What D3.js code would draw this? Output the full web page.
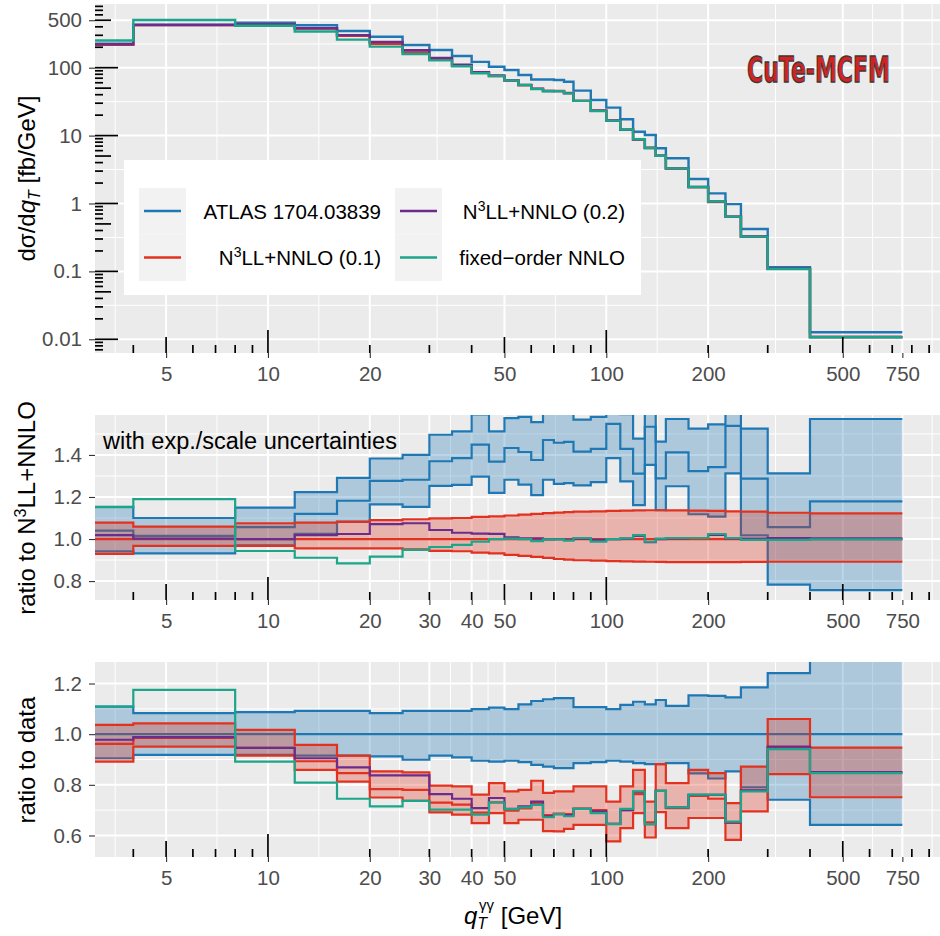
<!DOCTYPE html>
<html>
<head>
<meta charset="utf-8">
<script src="https://cdn.jsdelivr.net/npm/d3@7"></script>
<style>
body { margin: 0; background: #fff; }
svg { display: block; font-family: "Liberation Sans", Arial, Helvetica, sans-serif; }
</style>
</head>
<body>
<div id="chart"></div>
<script>

// bin edges in GeV
var edges = [0,4,8,12,16,20,25,30,35,40,45,50,55,60,65,70,75,80,90,100,110,120,130,140,150,175,200,225,250,300,400,750];

// top panel: dsigma/dqT [fb/GeV]
var atlas   = [226,430,460,421,347,286,216,182,149,122,103,92.5,78,67,67,66,62,46,33.4,25.8,17.4,11.4,10.2,6.5,4.63,2.30,1.41,0.98,0.42,0.115,0.0127];
var n3ll01  = [217,424,435,376,294,224,168,133,108,84,75,64.6,55.1,48.7,45.6,45.3,42.4,32.5,23.4,16.7,12.2,8.70,6.65,5.04,3.28,1.74,1.05,0.64,0.326,0.109,0.0108];
var n3ll02  = [221,425,435,381,302,239,181,139,111,86,77,65.2,55.8,49.2,45.3,45.1,42.2,32.4,23.2,16.7,12.2,8.80,6.58,5.04,3.29,1.75,1.07,0.64,0.327,0.109,0.0108];
var fixedNNLO = [251,505,415,341,259,204,159,128,105,83,75,65,55.5,48.3,45.0,45.1,41.9,32.4,23.0,16.6,12.3,8.82,6.58,5.04,3.29,1.75,1.07,0.64,0.325,0.108,0.0107];

// middle panel: ratio to N3LL+NNLO (0.1)
var r2AtlasC  = [1.040,1.015,1.057,1.120,1.182,1.277,1.282,1.370,1.385,1.449,1.368,1.433,1.414,1.376,1.471,1.458,1.462,1.416,1.429,1.548,1.429,1.311,1.534,1.289,1.412,1.323,1.342,1.538,1.287,1.057,1.179];
var r2AtlasUp = [1.153,1.100,1.149,1.223,1.291,1.383,1.400,1.496,1.512,1.593,1.512,1.575,1.581,1.556,1.674,1.665,1.670,1.568,1.581,1.701,1.594,1.478,1.715,1.463,1.571,1.525,1.545,1.762,1.525,1.312,1.571];
var r2AtlasDn = [0.941,0.932,0.970,1.025,1.082,1.165,1.153,1.253,1.258,1.297,1.220,1.282,1.259,1.209,1.282,1.262,1.266,1.255,1.271,1.385,1.274,1.161,1.353,1.137,1.251,1.118,1.107,1.312,1.017,0.783,0.757];
var r2ResC  = [1,1,1,1,1,1,1,1,1,1,1,1,1,1,1,1,1,1,1,1,1,1,1,1,1,1,1,1,1,1,1];
var r2ResUp = [1.078,1.059,1.075,1.078,1.083,1.090,1.094,1.098,1.100,1.105,1.108,1.112,1.116,1.120,1.123,1.126,1.128,1.130,1.132,1.134,1.135,1.136,1.137,1.137,1.136,1.135,1.134,1.132,1.130,1.125,1.122];
var r2ResDn = [0.929,0.967,0.967,0.956,0.956,0.956,0.951,0.944,0.942,0.935,0.932,0.925,0.920,0.915,0.910,0.905,0.902,0.899,0.897,0.895,0.894,0.893,0.892,0.891,0.890,0.890,0.890,0.890,0.891,0.892,0.892];
var r2N3ll02 = [1.019,1.002,1.000,1.019,1.024,1.071,1.075,1.043,1.030,1.026,1.025,1.008,1.003,1.003,0.998,1.000,0.996,1.002,0.996,1.000,1.002,1.015,0.985,1.000,1.003,1.005,1.020,1.003,1.002,1.005,1.003];
var r2Fixed  = [1.152,1.190,0.943,0.911,0.884,0.916,0.948,0.962,0.972,0.988,1.000,1.002,1.000,0.990,0.998,0.998,0.992,1.005,0.988,1.000,1.003,1.019,0.987,1.002,1.005,1.005,1.024,1.005,0.996,0.996,0.998];

// bottom panel: ratio to data
var r3AtlasC  = [1,1,1,1,1,1,1,1,1,1,1,1,1,1,1,1,1,1,1,1,1,1,1,1,1,1,1,1,1,1,1];
var r3AtlasUp = [1.109,1.083,1.087,1.092,1.092,1.083,1.092,1.092,1.092,1.099,1.105,1.099,1.118,1.131,1.138,1.142,1.142,1.107,1.107,1.099,1.116,1.128,1.118,1.135,1.112,1.153,1.151,1.145,1.185,1.241,1.332];
var r3AtlasDn = [0.905,0.918,0.918,0.915,0.915,0.912,0.899,0.915,0.908,0.895,0.892,0.895,0.890,0.879,0.872,0.866,0.866,0.886,0.890,0.895,0.892,0.886,0.882,0.882,0.886,0.845,0.825,0.853,0.790,0.741,0.642];
var r3ResC  = [0.962,0.985,0.946,0.893,0.846,0.783,0.780,0.730,0.722,0.690,0.731,0.698,0.707,0.727,0.680,0.686,0.684,0.706,0.700,0.646,0.700,0.763,0.652,0.776,0.708,0.756,0.745,0.650,0.777,0.946,0.848];
var r3ResUp = [1.037,1.043,1.017,0.958,0.915,0.853,0.849,0.797,0.794,0.761,0.807,0.774,0.780,0.816,0.768,0.774,0.774,0.794,0.794,0.734,0.794,0.859,0.734,0.882,0.807,0.859,0.846,0.728,0.872,1.060,0.947];
var r3ResDn = [0.892,0.951,0.915,0.859,0.813,0.750,0.737,0.691,0.682,0.649,0.688,0.649,0.662,0.662,0.617,0.616,0.626,0.642,0.642,0.577,0.629,0.688,0.592,0.692,0.629,0.669,0.669,0.583,0.695,0.842,0.751];
var r3N3ll02 = [0.978,0.988,0.946,0.905,0.869,0.837,0.837,0.763,0.745,0.708,0.748,0.705,0.715,0.734,0.676,0.684,0.680,0.705,0.695,0.646,0.700,0.772,0.645,0.776,0.711,0.760,0.760,0.652,0.778,0.951,0.850];
var r3Fixed  = [1.109,1.175,0.892,0.809,0.745,0.715,0.737,0.702,0.702,0.682,0.731,0.704,0.711,0.721,0.672,0.684,0.676,0.705,0.688,0.645,0.705,0.774,0.645,0.776,0.711,0.761,0.761,0.655,0.774,0.941,0.846];

// ticks
var xTicksTop   = [5,10,20,50,100,200,500,750];
var xTicksRatio = [5,10,20,30,40,50,100,200,500,750];
var yTicksSpec  = [0.01,0.1,1,10,100,500];
var yLabelsSpec = ["0.01","0.1","1","10","100","500"];
var yTicksR2 = [0.8,1.0,1.2,1.4];
var yMinorR2 = [0.9,1.1,1.3,1.5];
var yTicksR3 = [0.6,0.8,1.0,1.2];
var yMinorR3 = [0.7,0.9,1.1];

var colAtlas = "#1F78B4", colRes1 = "#E2321F", colRes2 = "#6B2D8C", colFixed = "#1DA58A";

var left = 95, right = 940;
var xDomain = [3.082, 969];
var x = d3.scaleLog().domain(xDomain).range([left, right]);

var svg = d3.select("#chart").append("svg")
    .attr("width", 940)
    .attr("height", 936);
var defs = svg.append("defs");

function stepPoints(vals) {
  var pts = [];
  vals.forEach(function(v, i) {
    pts.push([Math.max(edges[i], xDomain[0]), v]);
    pts.push([edges[i + 1], v]);
  });
  return pts;
}
function bandPoints(lo, hi) {
  var pts = [];
  lo.forEach(function(v, i) {
    pts.push([Math.max(edges[i], xDomain[0]), v, hi[i]]);
    pts.push([edges[i + 1], v, hi[i]]);
  });
  return pts;
}
// minor breaks halfway between majors in log space
function logMid(majors) {
  var out = [];
  out.push(majors[0] / Math.sqrt(majors[1] / majors[0]));
  for (var i = 0; i < majors.length - 1; i++) out.push(Math.sqrt(majors[i] * majors[i + 1]));
  var n = majors.length;
  out.push(majors[n - 1] * Math.sqrt(majors[n - 1] / majors[n - 2]));
  return out;
}

function styleAxis(sel) {
  sel.attr("font-family", null).attr("font-size", null);
  sel.select(".domain").remove();
  sel.selectAll("line").attr("stroke", "#333333").attr("stroke-width", 1.1);
  sel.selectAll("text").attr("fill", "#4D4D4D").style("font-size", "20.5px");
}

function makePanel(top, bottom, y, xMajor, yMajor, yMinor, yLabels) {
  var g = svg.append("g");
  var clipId = "clip" + top;
  defs.append("clipPath").attr("id", clipId)
    .append("rect")
    .attr("x", left).attr("y", top)
    .attr("width", right - left).attr("height", bottom - top);

  g.append("rect")
    .attr("x", left).attr("y", top)
    .attr("width", right - left).attr("height", bottom - top)
    .attr("fill", "#EBEBEB");

  var yd = y.domain();
  var inY = function(v) { return v >= Math.min(yd[0], yd[1]) && v <= Math.max(yd[0], yd[1]); };
  var inX = function(v) { return v >= xDomain[0] && v <= xDomain[1]; };

  g.selectAll(".xminor").data(logMid(xMajor).filter(inX)).enter()
    .append("line")
    .attr("x1", function(d) { return x(d); }).attr("x2", function(d) { return x(d); })
    .attr("y1", top).attr("y2", bottom)
    .attr("stroke", "#fff").attr("stroke-width", 1);
  g.selectAll(".yminor").data(yMinor.filter(inY)).enter()
    .append("line")
    .attr("x1", left).attr("x2", right)
    .attr("y1", function(d) { return y(d); }).attr("y2", function(d) { return y(d); })
    .attr("stroke", "#fff").attr("stroke-width", 1);
  g.selectAll(".xmajor").data(xMajor).enter()
    .append("line")
    .attr("x1", function(d) { return x(d); }).attr("x2", function(d) { return x(d); })
    .attr("y1", top).attr("y2", bottom)
    .attr("stroke", "#fff").attr("stroke-width", 2);
  g.selectAll(".ymajor").data(yMajor).enter()
    .append("line")
    .attr("x1", left).attr("x2", right)
    .attr("y1", function(d) { return y(d); }).attr("y2", function(d) { return y(d); })
    .attr("stroke", "#fff").attr("stroke-width", 2);

  var plot = g.append("g").attr("clip-path", "url(#" + clipId + ")");

  g.append("g")
    .attr("transform", "translate(0," + bottom + ")")
    .call(d3.axisBottom(x).tickValues(xMajor).tickFormat(d3.format("d")).tickSize(5).tickPadding(8.5))
    .call(styleAxis);

  g.append("g")
    .attr("transform", "translate(" + left + ",0)")
    .call(d3.axisLeft(y).tickValues(yMajor)
      .tickFormat(function(d, i) { return yLabels ? yLabels[i] : d3.format(".1f")(d); })
      .tickSize(6).tickPadding(7))
    .call(styleAxis);

  return { g: g, plot: plot, y: y, top: top, bottom: bottom };
}

function drawLine(p, vals, color, w) {
  var line = d3.line()
    .x(function(d) { return x(d[0]); })
    .y(function(d) { return p.y(d[1]); });
  p.plot.append("path")
    .attr("d", line(stepPoints(vals)))
    .attr("fill", "none")
    .attr("stroke", color)
    .attr("stroke-width", w || 2.2)
    .attr("stroke-linejoin", "miter");
}
function drawBand(p, lo, hi, color) {
  var area = d3.area()
    .x(function(d) { return x(d[0]); })
    .y0(function(d) { return p.y(d[1]); })
    .y1(function(d) { return p.y(d[2]); });
  p.plot.append("path")
    .attr("d", area(bandPoints(lo, hi)))
    .attr("fill", color)
    .attr("fill-opacity", 0.3);
}

function logTicksBottom(p) {
  var vals = [];
  [0, 1, 2].forEach(function(n) {
    for (var k = 1; k <= 9; k++) vals.push({ v: k * Math.pow(10, n), k: k });
  });
  p.g.selectAll(".lt").data(vals.filter(function(d) { return d.v >= xDomain[0] && d.v <= xDomain[1]; }))
    .enter().append("line")
    .attr("x1", function(d) { return x(d.v); }).attr("x2", function(d) { return x(d.v); })
    .attr("y1", p.bottom)
    .attr("y2", function(d) { return p.bottom - (d.k === 1 ? 23 : d.k === 5 ? 16 : 8); })
    .attr("stroke", "#000").attr("stroke-width", 1.7);
}

// ---------- top panel ----------
var ySpecDomain = [0.00628, 867];
var ySpec = d3.scaleLog().domain(ySpecDomain).range([353, 4]);
var p1 = makePanel(4, 353, ySpec, xTicksTop, yTicksSpec, logMid(yTicksSpec), yLabelsSpec);
drawLine(p1, atlas, colAtlas, 2.4);
drawLine(p1, n3ll01, colRes1, 2.4);
drawLine(p1, n3ll02, colRes2, 2.4);
drawLine(p1, fixedNNLO, colFixed, 2.4);
logTicksBottom(p1);

var ltLeft = [];
[-3, -2, -1, 0, 1, 2].forEach(function(n) {
  for (var k = 1; k <= 9; k++) ltLeft.push({ v: k * Math.pow(10, n), k: k });
});
p1.g.selectAll(".ltl").data(ltLeft.filter(function(d) { return d.v >= ySpecDomain[0] && d.v <= ySpecDomain[1]; }))
  .enter().append("line")
  .attr("x1", left)
  .attr("x2", function(d) { return left + (d.k === 1 ? 23 : d.k === 5 ? 16 : 8); })
  .attr("y1", function(d) { return ySpec(d.v); }).attr("y2", function(d) { return ySpec(d.v); })
  .attr("stroke", "#000").attr("stroke-width", 1.7);

// ---------- middle panel ----------
var yR2 = d3.scaleLinear().domain([0.71, 1.59]).range([600, 415]);
var p2 = makePanel(415, 600, yR2, xTicksRatio, yTicksR2, yMinorR2, null);
drawBand(p2, r2AtlasDn, r2AtlasUp, colAtlas);
drawLine(p2, r2AtlasUp, colAtlas);
drawLine(p2, r2AtlasC, colAtlas);
drawLine(p2, r2AtlasDn, colAtlas);
drawBand(p2, r2ResDn, r2ResUp, colRes1);
drawLine(p2, r2ResUp, colRes1);
drawLine(p2, r2ResC, colRes1);
drawLine(p2, r2ResDn, colRes1);
drawLine(p2, r2N3ll02, colRes2);
drawLine(p2, r2Fixed, colFixed);
logTicksBottom(p2);

p2.g.append("text")
  .attr("x", 103).attr("y", 449)
  .style("font-size", "23.5px")
  .attr("fill", "#000")
  .text("with exp./scale uncertainties");

// ---------- bottom panel ----------
var yR3 = d3.scaleLinear().domain([0.515, 1.285]).range([857, 662]);
var p3 = makePanel(662, 857, yR3, xTicksRatio, yTicksR3, yMinorR3, null);
drawBand(p3, r3AtlasDn, r3AtlasUp, colAtlas);
drawLine(p3, r3AtlasUp, colAtlas);
drawLine(p3, r3AtlasC, colAtlas);
drawLine(p3, r3AtlasDn, colAtlas);
drawBand(p3, r3ResDn, r3ResUp, colRes1);
drawLine(p3, r3ResUp, colRes1);
drawLine(p3, r3ResC, colRes1);
drawLine(p3, r3ResDn, colRes1);
drawLine(p3, r3N3ll02, colRes2);
drawLine(p3, r3Fixed, colFixed);
logTicksBottom(p3);

// ---------- axis titles ----------
function yTitle(cy) {
  return svg.append("text")
    .attr("transform", "translate(35," + cy + ") rotate(-90)")
    .attr("text-anchor", "middle")
    .style("font-size", "24px")
    .attr("fill", "#000");
}
var t1 = yTitle(178.5);
t1.append("tspan").text("dσ/d");
t1.append("tspan").style("font-style", "italic").text("q");
t1.append("tspan").style("font-style", "italic").style("font-size", "16px").attr("dy", 5).text("T");
t1.append("tspan").attr("dy", -5).text(" [fb/GeV]");

var t2 = yTitle(508);
t2.append("tspan").text("ratio to N");
t2.append("tspan").style("font-size", "16px").attr("dy", -9).text("3");
t2.append("tspan").attr("dy", 9).text("LL+NNLO");

yTitle(760).text("ratio to data");

var tx = svg.append("text")
  .attr("x", 513).attr("y", 924)
  .attr("text-anchor", "middle")
  .style("font-size", "24px")
  .attr("fill", "#000");
tx.append("tspan").style("font-style", "italic").text("q");
tx.append("tspan").style("font-style", "italic").style("font-size", "16px").attr("dy", 5).text("T");
tx.append("tspan").style("font-size", "15px").attr("dx", -8).attr("dy", -19).text("γγ");
tx.append("tspan").attr("dy", 14).text(" [GeV]");

// ---------- legend ----------
svg.append("rect")
  .attr("x", 124).attr("y", 160)
  .attr("width", 517).attr("height", 135)
  .attr("fill", "#fff");

var legendItems = [
  { label: "ATLAS 1704.03839", color: colAtlas, col: 0, row: 0 },
  { label: "N|3|LL+NNLO (0.1)", color: colRes1, col: 0, row: 1 },
  { label: "N|3|LL+NNLO (0.2)", color: colRes2, col: 1, row: 0 },
  { label: "fixed−order NNLO", color: colFixed, col: 1, row: 1 }
];
var keyX = [139, 395], textEnd = [381, 625], keyY = [188, 234.5];
legendItems.forEach(function(d) {
  var kx = keyX[d.col], ky = keyY[d.row];
  svg.append("rect")
    .attr("x", kx).attr("y", ky)
    .attr("width", 47).attr("height", 46.5)
    .attr("fill", "#F2F2F2");
  svg.append("line")
    .attr("x1", kx + 5).attr("x2", kx + 42)
    .attr("y1", ky + 23).attr("y2", ky + 23)
    .attr("stroke", d.color).attr("stroke-width", 2.5);
  var t = svg.append("text")
    .attr("x", textEnd[d.col]).attr("y", ky + 30.5)
    .attr("text-anchor", "end")
    .style("font-size", "20.5px")
    .attr("fill", "#000");
  var parts = d.label.split("|");
  if (parts.length === 1) {
    t.text(d.label);
  } else {
    t.append("tspan").text(parts[0]);
    t.append("tspan").style("font-size", "14px").attr("dy", -8).text(parts[1]);
    t.append("tspan").attr("dy", 8).text(parts[2]);
  }
});

// ---------- logo ----------
// squeeze the bold face horizontally to get the condensed logo look
var logoG = svg.append("g");
var logo = logoG.append("text")
  .attr("x", 0).attr("y", 0)
  .style("font-family", "'DejaVu Sans', sans-serif")
  .style("font-weight", "bold")
  .style("font-size", "36px")
  .attr("fill", "#D42222")
  .attr("stroke", "#3A3A3A")
  .attr("stroke-width", 1.3)
  .text("CuTe-MCFM");
var logoLen = logo.node().getComputedTextLength();
logoG.attr("transform", "translate(747,82) scale(" + (143 / logoLen) + ",1)");

</script>
</body>
</html>
